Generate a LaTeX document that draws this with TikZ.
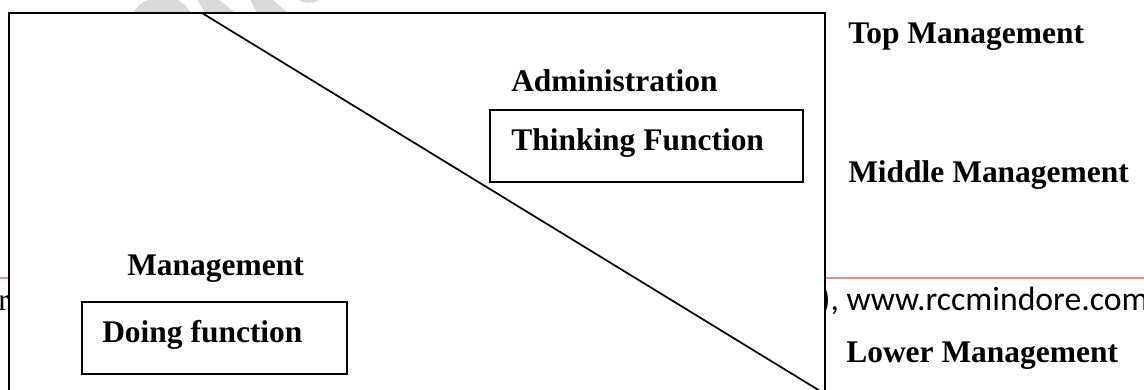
\documentclass[tikz,border=0pt]{standalone}
\usepackage{fontspec}
\setmainfont{Liberation Serif}
\newfontfamily\footfont{Carlito}
\definecolor{wm}{RGB}{217,217,217}
\definecolor{redline}{RGB}{217,149,148}
\begin{document}
\begin{tikzpicture}[x=0.75pt,y=-0.75pt,
  lbl/.style={font=\fontsize{23.6}{28}\selectfont\bfseries, anchor=base west, inner sep=0pt},
  fnbox/.style={draw, line width=1.7pt, inner sep=0pt, anchor=north west, minimum height=54pt},
  wmark/.style={fill=wm}]
\useasboundingbox (0,0) rectangle (1144,389);
% watermark fragments
\fill[wmark] (133,13) .. controls (138,4) and (146,0) .. (152,-1) -- (176,-1) .. controls (183,2) and (188,8) .. (191,13) -- cycle;
\fill[wmark] (197,-1) -- (218,-1) -- (236,13) -- (205,13) -- cycle;
\fill[wmark] (250,-1) -- (272,-1) -- (288,13) -- (257,13) -- cycle;
\fill[wmark] (297,-1) .. controls (303,4) and (314,4) .. (320,-1) -- cycle;
% page header remnants
\coordinate (rl) at (0,278);
\coordinate (rr) at (1144,278);
\draw[redline, line width=1.2pt] (rl) -- (rr);
\node[font=\footfont\fontsize{25.3}{30}\selectfont, anchor=base west, inner sep=0pt] (foot) at (820,310) {), www.rccmindore.com};
\node[font=\fontsize{23.6}{28}\selectfont, anchor=base east, inner sep=0pt] (frag) at (9,310) {r};
% main frame
\coordinate (tl) at (9,13);
\coordinate (br) at (825,394);
\coordinate (dtop) at (202,13);
\draw[fill=white, line width=1.5pt] (tl) rectangle (br);
\draw[line width=1.3pt] (dtop) -- (br);
% boxes
\node[fnbox, minimum width=234.75pt] (thinkbox) at (489,109) {};
\node[fnbox, minimum width=198.75pt] (doingbox) at (81,301) {};
% labels
\node[lbl] (top) at (848,43) {Top Management};
\node[lbl] (admin) at (511,91) {Administration};
\node[lbl] (think) at (511,150) {Thinking Function};
\node[lbl] (mid) at (848,182) {Middle Management};
\node[lbl] (mgmt) at (127,275) {Management};
\node[lbl] (doing) at (102,342) {Doing function};
\node[lbl] (low) at (846,362) {Lower Management};
\end{tikzpicture}
\end{document}
